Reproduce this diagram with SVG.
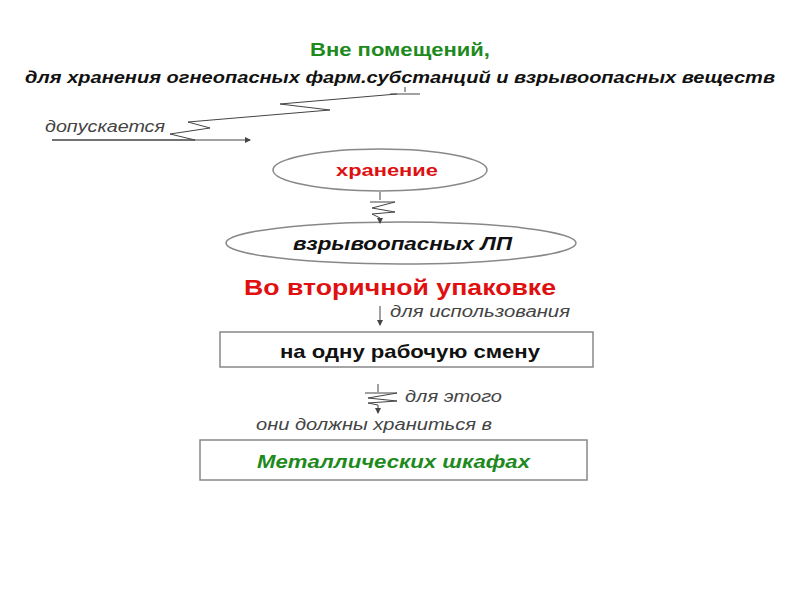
<svg xmlns="http://www.w3.org/2000/svg" width="800" height="600" viewBox="0 0 800 600">
<defs><marker id="a" markerWidth="6" markerHeight="6" refX="5" refY="3" orient="auto"><path d="M0,0 L6,3 L0,6 z" fill="#444"/></marker></defs>
<style>text{font-family:"Liberation Sans",Arial,sans-serif}.b{font-weight:bold}.i{font-style:italic}.s{fill:#fff;stroke:#888;stroke-width:1.5}.c{fill:none;stroke:#444;stroke-width:1}</style>
<rect width="800" height="600" fill="#fff"/>
<g id="title"><text x="310" y="56" textLength="180" lengthAdjust="spacingAndGlyphs" class="b" font-size="18" fill="#1e8a1e">Вне помещений,</text>
<text x="25" y="83" textLength="750" lengthAdjust="spacingAndGlyphs" class="b i" font-size="16" fill="#111">для хранения огнеопасных  фарм.субстанций и взрывоопасных веществ</text></g>
<text x="45" y="132" textLength="120" lengthAdjust="spacingAndGlyphs" class="i" font-size="16" fill="#444">допускается</text>
<g id="n1"><ellipse cx="380" cy="170" rx="107" ry="21" class="s"/><text x="336" y="176" textLength="102" lengthAdjust="spacingAndGlyphs" class="b" font-size="17" fill="#d11">хранение</text></g>
<g id="n2"><ellipse cx="401" cy="243" rx="175" ry="21" class="s"/><text x="293" y="250" textLength="219" lengthAdjust="spacingAndGlyphs" class="b i" font-size="18" fill="#111">взрывоопасных ЛП</text></g>
<text x="244" y="295" textLength="312" lengthAdjust="spacingAndGlyphs" class="b" font-size="22" fill="#e01010">Во вторичной упаковке</text>
<text x="390" y="317" textLength="180" lengthAdjust="spacingAndGlyphs" class="i" font-size="16" fill="#444">для использования</text>
<g id="n3"><rect x="220" y="332" width="373" height="35" class="s"/><text x="280" y="358" textLength="260" lengthAdjust="spacingAndGlyphs" class="b" font-size="19" fill="#111">на одну рабочую смену</text></g>
<text x="405" y="402" textLength="97" lengthAdjust="spacingAndGlyphs" class="i" font-size="16" fill="#444">для этого</text>
<text x="256" y="430" textLength="236" lengthAdjust="spacingAndGlyphs" class="i" font-size="16" fill="#444">они должны храниться в</text>
<g id="n4"><rect x="200" y="440" width="387" height="40" class="s"/><text x="257" y="468" textLength="273" lengthAdjust="spacingAndGlyphs" class="b i" font-size="18" fill="#1e8a1e">Металлических шкафах</text></g>
<g id="connectors">
<path class="c" d="M405,87 L405,92 M390,94 L420,94 M397,94 L280,104 L330,110 L188,122 L210,128 L170,134 L195,140 L52,140" />
<path class="c" d="M52,140 L250,140" marker-end="url(#a)"/>
<path class="c" d="M380,192 L380,200 M370,202 L395,202 L372,208 L395,212 L372,214 L380,218" />
<path class="c" d="M380,218 L380,223" marker-end="url(#a)"/>
<path class="c" d="M380,306 L380,325" marker-end="url(#a)"/>
<path class="c" d="M378,384 L378,392 M365,393 L397,393 L368,398 L397,401 L368,403 L378,405" />
<path class="c" d="M378,405 L378,413" marker-end="url(#a)"/>
</g>
</svg>
